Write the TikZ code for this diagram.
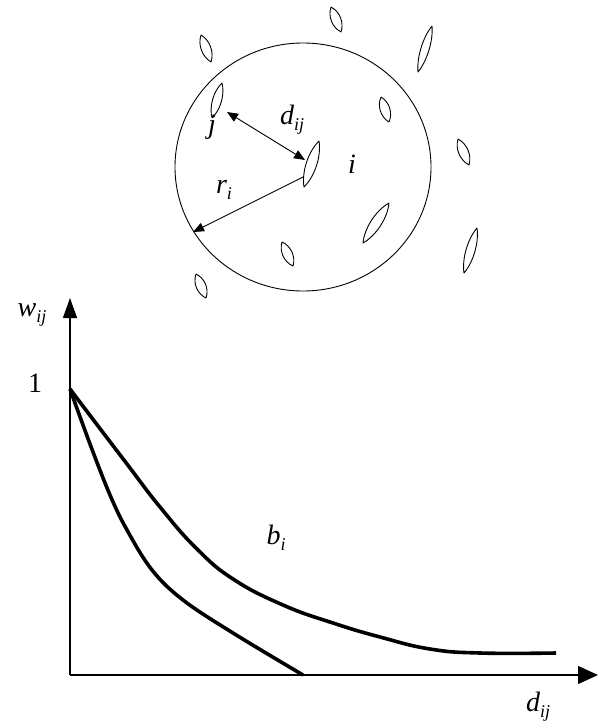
\documentclass[tikz,border=0pt]{standalone}
\usepackage{fontspec}
\setmainfont{Liberation Serif}
\usetikzlibrary{arrows.meta,calc}
\newcommand\mysub[1]{\raisebox{-0.22em}{\fontsize{18}{19}\selectfont #1}}
\newcommand\leaf[3]{\draw[leafline] (#1) .. controls ($(#1)!0.28!(#2)!#3!90:(#2)$) and ($(#1)!0.72!(#2)!#3!-90:(#1)$) .. (#2) .. controls ($(#2)!0.28!(#1)!#3!90:(#1)$) and ($(#2)!0.72!(#1)!#3!-90:(#2)$) .. (#1);}
\begin{document}
\begin{tikzpicture}[x=1pt,y=-1pt,
  thinline/.style={line width=0.9pt},
  leafline/.style={line width=0.9pt, line join=round},
  axis/.style={line width=1.3pt},
  curve/.style={line width=3.6pt},
  smalltip/.tip={Triangle[length=11pt,width=9pt]},
  lbl/.style={font=\fontsize{28}{31}\selectfont\itshape, inner sep=0pt}]
\useasboundingbox (0,0) rectangle (602,726);
% neighbourhood circle
\draw[thinline] (303,167) ellipse [x radius=128pt, y radius=124pt];
% leaves
\leaf{201,35}{211,62}{6.5pt}
\leaf{331,7}{341,32}{6.5pt}
\leaf{432,26}{418,72}{5.5pt}
\leaf{222,83}{212,118}{6pt}
\leaf{381,97}{389,122}{6.5pt}
\leaf{319,141}{304,187}{7pt}
\leaf{458,139}{469,165}{6.5pt}
\leaf{389,203}{363,243}{7pt}
\leaf{477,228}{464,273}{6pt}
\leaf{282,242}{293,266}{6.5pt}
\leaf{196,274}{206,298}{6.5pt}
% arrows in the circle
\coordinate (jtip) at (227,112);
\coordinate (itip) at (305,160);
\coordinate (rstart) at (303,177);
\coordinate (rend) at (193,232);
\draw[thinline, smalltip-smalltip] (jtip) -- (itip);
\draw[thinline, -smalltip] (rstart) -- (rend);
% circle labels
\node[lbl] (dlab) at (292,120) {d\mysub{ij}};
\node[lbl] (jlab) at (212,127) {j};
\node[lbl] (ilab) at (352,164) {i};
\node[lbl] (rlab) at (224,190) {r\mysub{i}};
% axes
\coordinate (O) at (70,675);
\coordinate (ytip) at (70,298);
\coordinate (xtip) at (598,675);
\draw[axis, -{Triangle[length=20pt,width=14pt]}] (O) -- (ytip);
\draw[axis, -{Triangle[length=20pt,width=18pt]}] (O) -- (xtip);
% curves
\draw[curve] plot[smooth, tension=0.75] coordinates {(70,389) (95,422) (127,464) (160,507) (196,548) (233,579) (283,605) (333,623) (380,637) (430,649) (480,653) (556,653)};
\draw[curve] plot[smooth, tension=0.6] coordinates {(70,389) (90,444) (110,495) (127,530) (152,570) (183,600) (233,633) (303,675)};
% plot labels
\node[lbl] (wlab) at (32,315) {w\mysub{ij}};
\node[font=\fontsize{28}{31}\selectfont, inner sep=0pt] (one) at (35,383) {1};
\node[lbl] (blab) at (276,538) {b\mysub{i}};
\node[lbl] (dxlab) at (538,707) {d\mysub{ij}};
\end{tikzpicture}
\end{document}
